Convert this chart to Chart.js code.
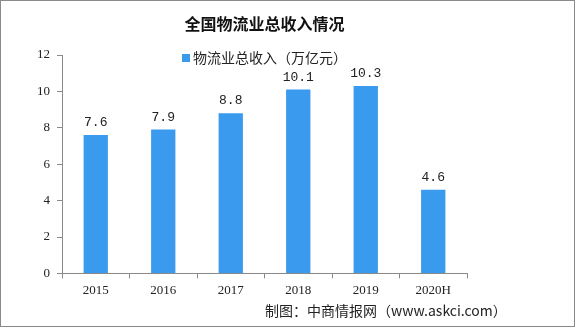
<!DOCTYPE html>
<html>
<head>
<meta charset="utf-8">
<script src="https://cdn.jsdelivr.net/npm/chart.js@4.4.0/dist/chart.umd.min.js"></script>
<style>
  html, body { margin: 0; padding: 0; background: #fff; }
  #wrap { width: 575px; height: 327px; position: relative; }
</style>
</head>
<body>
<div id="wrap"><canvas id="chart" width="575" height="327"></canvas></div>
<script>
// Data
const years = ['2015', '2016', '2017', '2018', '2019', '2020H'];
const revenue = [7.6, 7.9, 8.8, 10.1, 10.3, 4.6];
const yTicks = [0, 2, 4, 6, 8, 10, 12];
const titleText = '全国物流业总收入情况';
const seriesName = '物流业总收入（万亿元）';
const sourceText = '制图：中商情报网（www.askci.com）';

const barColor = '#3A9BEE';

// Title, legend, value labels, footer and frame
const extras = {
  id: 'extras',
  afterDatasetsDraw(chart) {
    const ctx = chart.ctx;
    const meta = chart.getDatasetMeta(0);
    ctx.save();
    ctx.fillStyle = '#222';
    ctx.font = '13px "Liberation Mono", "DejaVu Sans Mono", monospace';
    ctx.textAlign = 'center';
    ctx.textBaseline = 'alphabetic';
    meta.data.forEach((bar, i) => {
      ctx.fillText(revenue[i].toFixed(1), bar.x, bar.y - 9);
    });
    ctx.restore();
  },
  afterDraw(chart) {
    const ctx = chart.ctx;
    const area = chart.chartArea;
    const cx = (area.left + area.right) / 2;
    ctx.save();
    ctx.fillStyle = '#111';
    ctx.font = 'bold 16px "Noto Sans CJK SC", sans-serif';
    ctx.textAlign = 'center';
    ctx.textBaseline = 'middle';
    ctx.fillText(titleText, cx, 24);

    // legend
    ctx.font = '14px "Noto Sans CJK SC", sans-serif';
    const tw = ctx.measureText(seriesName).width;
    const lx = cx - (tw + 11) / 2;
    ctx.fillStyle = chart.data.datasets[0].backgroundColor;
    ctx.fillRect(lx, 54, 8, 8);
    ctx.fillStyle = '#222';
    ctx.textAlign = 'left';
    ctx.fillText(seriesName, lx + 11, 58);

    ctx.font = '14px "Noto Sans CJK SC", sans-serif';
    ctx.fillText(sourceText, 265, 311);

    ctx.strokeStyle = '#8a8a8a';
    ctx.lineWidth = 1;
    ctx.strokeRect(0.5, 0.5, chart.width - 1, chart.height - 1);
    ctx.restore();
  }
};

new Chart(document.getElementById('chart').getContext('2d'), {
  type: 'bar',
  data: {
    labels: years,
    datasets: [{
      label: seriesName,
      data: revenue,
      backgroundColor: barColor,
      borderWidth: 0,
      barPercentage: 0.36,
      categoryPercentage: 1
    }]
  },
  options: {
    responsive: false,
    animation: false,
    layout: { padding: { top: 55, right: 108, bottom: 25, left: 0 } },
    plugins: {
      title: { display: false },
      tooltip: { enabled: false },
      legend: { display: false }
    },
    scales: {
      x: {
        grid: {
          drawOnChartArea: false,
          tickLength: 5,
          color: '#8a8a8a',
          offset: true
        },
        border: { color: '#8a8a8a' },
        ticks: {
          color: '#222',
          padding: 4,
          maxRotation: 0,
          font: { family: '"Liberation Serif", serif', size: 13 }
        }
      },
      y: {
        min: 0,
        max: 12,
        afterFit(scale) { scale.width = 62; },
        afterBuildTicks(scale) { scale.ticks = yTicks.map(v => ({ value: v })); },
        grid: {
          drawOnChartArea: false,
          tickLength: 5,
          color: '#8a8a8a'
        },
        border: { color: '#8a8a8a' },
        ticks: {
          color: '#222',
          padding: 7,
          font: { family: '"Liberation Serif", serif', size: 13 }
        }
      }
    }
  },
  plugins: [extras]
});
</script>
</body>
</html>
